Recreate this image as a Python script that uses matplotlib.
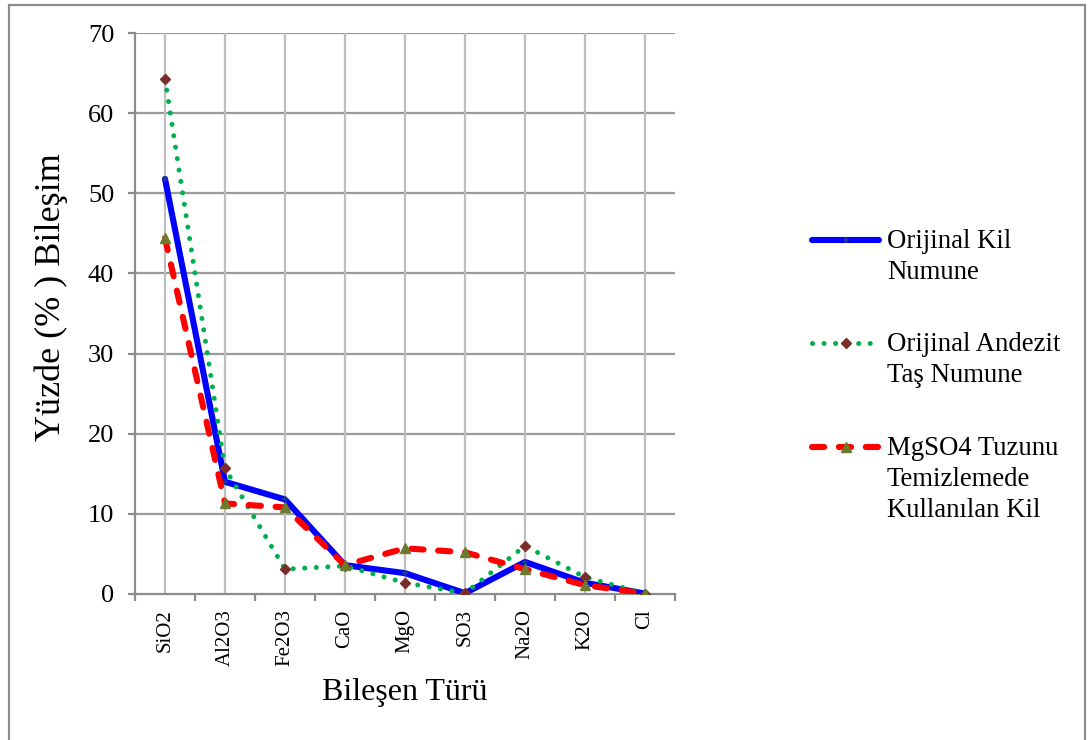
import numpy as np
import matplotlib
matplotlib.use("Agg")
import matplotlib.pyplot as plt
from matplotlib.lines import Line2D
from matplotlib.patches import Rectangle

plt.rcParams['font.family'] = ['Liberation Serif', 'DejaVu Serif']

components = ['SiO2', 'Al2O3', 'Fe2O3', 'CaO', 'MgO', 'SO3', 'Na2O', 'K2O', 'Cl']
kil = [51.8, 14.0, 11.8, 3.6, 2.6, 0.1, 4.0, 1.4, 0.05]
andezit = [64.3, 15.7, 3.1, 3.5, 1.4, 0.1, 6.0, 2.1, 0.05]
mgso4_kil = [44.4, 11.3, 10.8, 3.6, 5.7, 5.2, 3.1, 1.1, 0.05]

series_names = [['Orijinal Kil', 'Numune'],
                ['Orijinal Andezit', 'Taş Numune'],
                ['MgSO4 Tuzunu', 'Temizlemede', 'Kullanılan Kil']]

BLUE = '#0000FF'
GREEN = '#00B050'
RED = '#FF0000'
GRID_H = '#9A9A9A'
GRID_V = '#BEBEBE'

W, H = 1088, 740
fig = plt.figure(figsize=(W / 100, H / 100), dpi=100)
ax = fig.add_axes([135 / W, 1 - 594 / H, 540 / W, 561 / H])

x = np.arange(len(components))

# grid
for v in range(10, 80, 10):
    ax.axhline(v, color=GRID_H, lw=1.6, zorder=1)
for xi in x:
    ax.axvline(xi, color=GRID_V, lw=1.6, zorder=1)

line_styles = [
    dict(color=BLUE, lw=4.4, solid_capstyle='round', solid_joinstyle='round'),
    dict(color=GREEN, lw=3.6, ls=(0, (0.01, 2.3)), dash_capstyle='round'),
    dict(color=RED, lw=4.4, ls=(0, (2.0, 2.4)), dash_capstyle='round',
         dash_joinstyle='round'),
]
marker_styles = [
    dict(marker='+', ms=5, mew=1.3, color='#1F3C88'),
    dict(marker='D', ms=5.5, color='#7A2E2A'),
    dict(marker='^', ms=7.5, color='#6B7A2E'),
]

for z, (vals, ls_kw, mk_kw) in enumerate(zip([kil, andezit, mgso4_kil],
                                             line_styles, marker_styles)):
    ax.plot(x, vals, zorder=3 + z, **ls_kw)
    ax.plot(x, vals, ls='none', zorder=3 + z, **mk_kw)

ax.set_xlim(-0.5, len(components) - 0.5)
ax.set_ylim(0, 70)
ax.set_yticks(range(0, 80, 10))
ax.set_xticks(x)
ax.set_xticklabels(components, rotation=90, fontsize=15)
ax.set_xticks(np.arange(-0.5, len(components), 1.0), minor=True)
ax.tick_params(axis='x', which='major', length=0, pad=11)
ax.tick_params(axis='x', which='minor', length=5, width=1.6, color='#8C8C8C',
               direction='out')
ax.tick_params(axis='y', length=5, width=1.6, color='#8C8C8C', labelsize=19, pad=10)

for side in ['top', 'right']:
    ax.spines[side].set_visible(False)
for side in ['left', 'bottom']:
    ax.spines[side].set_color('#8C8C8C')
    ax.spines[side].set_linewidth(1.6)
    ax.spines[side].set_zorder(2)

ax.set_xlabel('Bileşen Türü', fontsize=23)
ax.xaxis.set_label_coords(0.5, -0.15)
ax.set_ylabel('Yüzde (% ) Bileşim', fontsize=26)
ax.yaxis.set_label_coords(-0.125, 0.53)

# legend, drawn by hand so each sample line sits on the first text line
leg_y = [240, 343, 447]
for yy, name, ls_kw, mk_kw in zip(leg_y, series_names, line_styles, marker_styles):
    fy = 1 - yy / H
    fig.add_artist(Line2D([812 / W, 879 / W], [fy, fy], transform=fig.transFigure,
                          **ls_kw))
    fig.add_artist(Line2D([846 / W], [fy], transform=fig.transFigure, ls='none',
                          **mk_kw))
    for j, part in enumerate(name):
        fig.text(887 / W, 1 - (yy + 8 + 31 * j) / H, part, fontsize=19.3,
                 va='baseline', ha='left')

fig.add_artist(Rectangle((8.5 / W, -0.05), 1076 / W, 1.05 - 4.5 / H,
                         transform=fig.transFigure, fill=False, ec='#8C8C8C', lw=1.6))

fig.savefig('out.png', dpi=100)
